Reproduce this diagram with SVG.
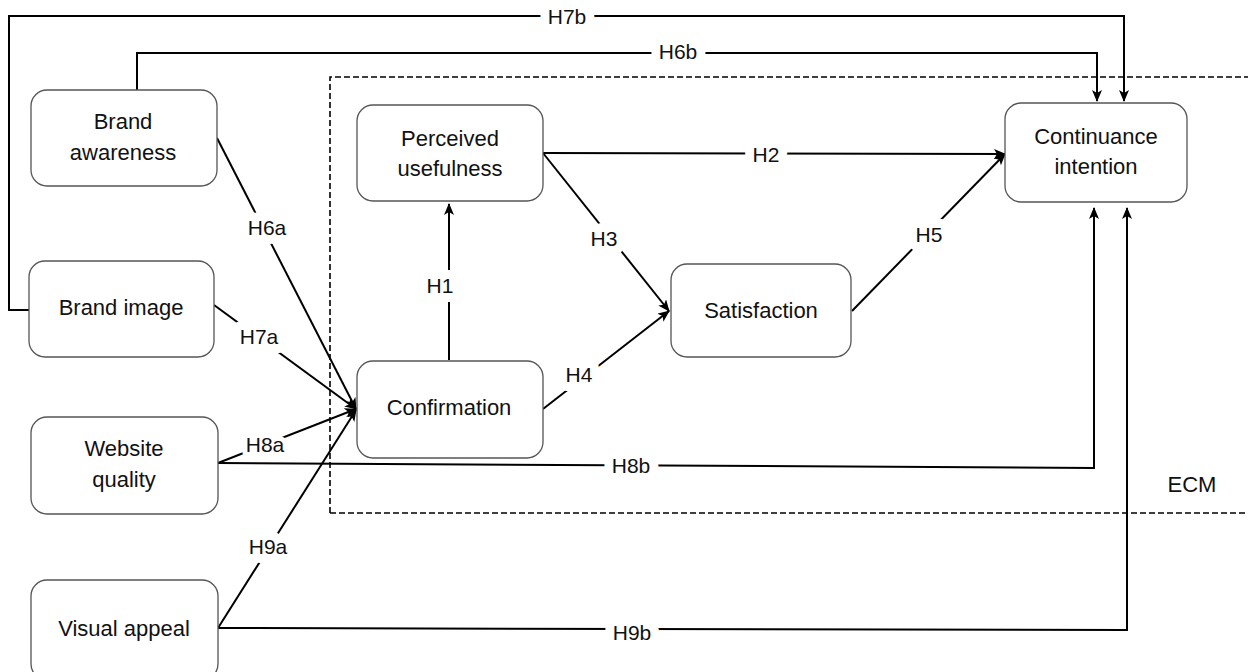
<svg xmlns="http://www.w3.org/2000/svg" width="1248" height="672" viewBox="0 0 1248 672">
<style>
.box{fill:#fff;stroke:#555;stroke-width:1.3}
.t{font-family:"Liberation Sans",Arial,sans-serif;font-size:22px;fill:#111;text-anchor:middle;dominant-baseline:middle}
.lb{font-family:"Liberation Sans",Arial,sans-serif;font-size:21px;fill:#111;text-anchor:middle;dominant-baseline:middle;stroke:#fff;stroke-width:18;paint-order:stroke;stroke-linejoin:round}
.e{fill:none;stroke:#000;stroke-width:2}
.ea{fill:none;stroke:#000;stroke-width:2;marker-end:url(#ah)}
</style>
<defs>
<marker id="ah" viewBox="0 0 12 10" refX="11" refY="5" markerWidth="12" markerHeight="10" markerUnits="userSpaceOnUse" orient="auto">
<path d="M0,0 L12,5 L0,10 L3,5 Z" fill="#000"/>
</marker>
</defs>
<rect width="1248" height="672" fill="#fff"/>
<path d="M330,513 L330,77 L1250,77 M330,513 L1250,513" fill="none" stroke="#000" stroke-width="1.6" stroke-dasharray="6,3"/>
<g id="connectors">
<path class="ea" d="M29,310 L9,310 L9,16 L1124,16 L1124,101"/>
<path class="ea" d="M137,90 L137,53 L1097,53 L1097,101"/>
<path class="ea" d="M217,138 L356,409"/>
<path class="ea" d="M214,305 L356,409"/>
<path class="ea" d="M218,463 L356,409"/>
<path class="ea" d="M218,628 L356,410"/>
<path class="ea" d="M218,463 L1094,468 L1094,208"/>
<path class="ea" d="M218,628 L1127,630 L1127,208"/>
<path class="ea" d="M449,360 L449,204"/>
<path class="ea" d="M543,153 L1005,154"/>
<path class="ea" d="M543,153 L669,311"/>
<path class="ea" d="M543,409 L669,311"/>
<path class="ea" d="M852,311 L1005,154"/>
<text class="lb" x="567" y="18">H7b</text>
<text class="lb" x="678" y="53">H6b</text>
<text class="lb" x="267" y="229">H6a</text>
<text class="lb" x="259" y="338">H7a</text>
<text class="lb" x="265" y="446" style="stroke-width:10">H8a</text>
<text class="lb" x="268" y="548">H9a</text>
<text class="lb" x="631" y="467">H8b</text>
<text class="lb" x="632" y="634">H9b</text>
<text class="lb" x="440" y="287">H1</text>
<text class="lb" x="766" y="156">H2</text>
<text class="lb" x="604" y="240">H3</text>
<text class="lb" x="579" y="376">H4</text>
<text class="lb" x="929" y="236">H5</text>
</g>
<g id="brand-awareness"><rect class="box" x="31" y="90" width="186" height="96" rx="16"/><text class="t" x="123" y="123">Brand</text><text class="t" x="123" y="154">awareness</text></g>
<g id="brand-image"><rect class="box" x="29" y="261" width="185" height="96" rx="16"/><text class="t" x="121" y="309">Brand image</text></g>
<g id="website-quality"><rect class="box" x="31" y="417" width="187" height="97" rx="16"/><text class="t" x="124" y="450">Website</text><text class="t" x="124" y="481">quality</text></g>
<g id="visual-appeal"><rect class="box" x="31" y="580" width="187" height="100" rx="16"/><text class="t" x="124" y="630">Visual appeal</text></g>
<g id="perceived-usefulness"><rect class="box" x="357" y="105" width="186" height="96" rx="16"/><text class="t" x="450" y="140">Perceived</text><text class="t" x="450" y="170">usefulness</text></g>
<g id="confirmation"><rect class="box" x="357" y="361" width="186" height="97" rx="16"/><text class="t" x="449" y="409">Confirmation</text></g>
<g id="satisfaction"><rect class="box" x="671" y="264" width="180" height="93" rx="16"/><text class="t" x="761" y="312">Satisfaction</text></g>
<g id="continuance-intention"><rect class="box" x="1005" y="103" width="182" height="99" rx="16"/><text class="t" x="1096" y="138">Continuance</text><text class="t" x="1096" y="168">intention</text></g>
<text class="t" x="1192" y="486">ECM</text>
</svg>
